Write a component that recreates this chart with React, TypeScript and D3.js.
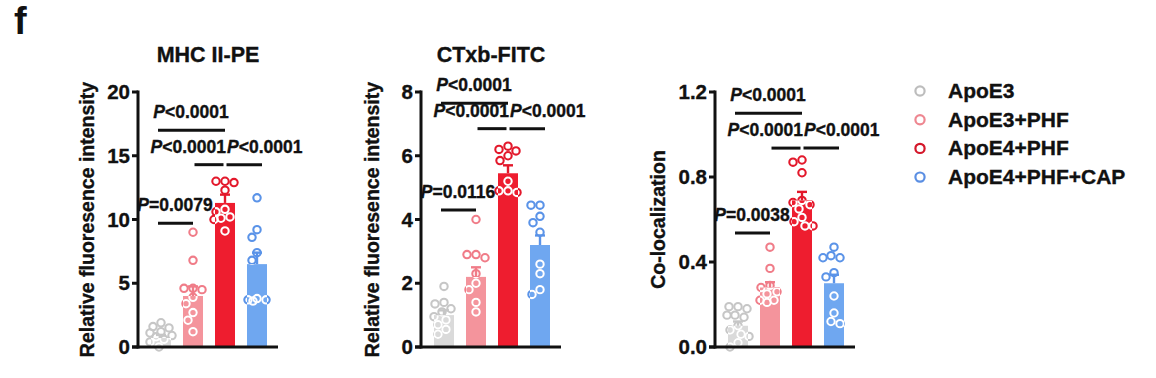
import React from 'react';
import * as d3 from 'd3';

const groups = ['ApoE3', 'ApoE3+PHF', 'ApoE4+PHF', 'ApoE4+PHF+CAP'];
const barColors = ['#dadada', '#f4949c', '#ee1d2f', '#6fa7f0'];
const pointColors = ['#c6c6c6', '#f07c88', '#e3182b', '#5a93e8'];
const legendColors = ['#bdbdbd', '#ee8791', '#d4172a', '#5b8fe3'];

// Panel 1: MHC II-PE
const mhcTicks = [0, 5, 10, 15, 20];
const mhcMeans = [0.7, 4.0, 11.3, 6.5];
const mhcSems = [0.25, 0.75, 0.65, 0.9];
const mhcPoints = [
  [1.9, 1.6, 1.5, 1.2, 1.1, 0.9, 0.8, 0.6, 0.4, 0.0],
  [9.0, 6.8, 4.6, 4.6, 4.5, 3.9, 3.4, 2.7, 2.1, 1.2],
  [13.0, 13.0, 12.9, 12.3, 10.8, 10.6, 10.2, 10.1, 10.0, 9.1],
  [11.7, 9.2, 8.6, 7.4, 6.8, 3.8, 3.7, 3.7, 3.6],
];
const mhcBrackets = [
  { a: 0, b: 2, y: 17.0, label: '<0.0001', anchor: 'middle' },
  { a: 1, b: 2, y: 14.3, label: '<0.0001', anchor: 'end' },
  { a: 2, b: 3, y: 14.3, label: '<0.0001', anchor: 'start' },
  { a: 0, b: 1, y: 9.7, label: '=0.0079', anchor: 'middle' },
];

// Panel 2: CTxb-FITC
const ctxTicks = [0, 2, 4, 6, 8];
const ctxMeans = [1.0, 2.2, 5.45, 3.2];
const ctxSems = [0.15, 0.3, 0.25, 0.3];
const ctxPoints = [
  [1.9, 1.4, 1.35, 1.2, 1.1, 0.95, 0.85, 0.7, 0.55, 0.4],
  [4.0, 2.9, 2.9, 2.8, 2.3, 2.0, 1.8, 1.4, 1.1],
  [6.3, 6.2, 6.15, 6.0, 5.85, 5.2, 4.9, 4.9, 4.85],
  [4.45, 4.45, 4.1, 3.9, 3.6, 2.6, 2.3, 1.8, 1.65],
];
const ctxBrackets = [
  { a: 0, b: 2, y: 7.65, label: '<0.0001', anchor: 'middle' },
  { a: 1, b: 2, y: 6.85, label: '<0.0001', anchor: 'end' },
  { a: 2, b: 3, y: 6.85, label: '<0.0001', anchor: 'start' },
  { a: 0, b: 1, y: 4.3, label: '=0.0116', anchor: 'middle' },
];

// Panel 3: Co-localization
const colTicks = [0, 0.4, 0.8, 1.2];
const colMeans = [0.1, 0.28, 0.69, 0.3];
const colSems = [0.02, 0.025, 0.04, 0.04];
const colPoints = [
  [0.19, 0.19, 0.18, 0.15, 0.15, 0.14, 0.1, 0.08, 0.06, 0.05, 0.02, 0.0],
  [0.47, 0.37, 0.29, 0.28, 0.26, 0.25, 0.22, 0.22, 0.21],
  [0.88, 0.87, 0.82, 0.69, 0.68, 0.67, 0.65, 0.61, 0.59, 0.57, 0.57],
  [0.47, 0.43, 0.42, 0.42, 0.35, 0.33, 0.24, 0.16, 0.12, 0.11],
];
const colBrackets = [
  { a: 0, b: 2, y: 1.1, label: '<0.0001', anchor: 'middle' },
  { a: 1, b: 2, y: 0.936, label: '<0.0001', anchor: 'end' },
  { a: 2, b: 3, y: 0.936, label: '<0.0001', anchor: 'start' },
  { a: 0, b: 1, y: 0.536, label: '=0.0038', anchor: 'middle' },
];

const FONT = "'Liberation Sans', Arial, Helvetica, sans-serif";
const TOP = 92;
const BOTTOM = 347;
const INK = '#111';
const HEAVY = { stroke: INK, strokeWidth: 0.35 };

function swarm(vals: number[], y: (v: number) => number, cx: number, minDist = 8.8, maxOff = 11) {
  const placed: { x: number; y: number }[] = [];
  const order = vals.map((v, i) => ({ v, i })).sort((p, q) => q.v - p.v);
  const out: { x: number; y: number }[] = new Array(vals.length);
  for (const { v, i } of order) {
    const py = y(v);
    let best: number | null = null;
    let bestScore = -1;
    let fallback = 0;
    for (let k = 0; k <= maxOff * 2; k++) {
      const off = (k % 2 === 0 ? 1 : -1) * Math.ceil(k / 2);
      const dmin = placed.reduce((m, p) => Math.min(m, Math.hypot(p.x - (cx + off), p.y - py)), Infinity);
      if (dmin >= minDist) {
        best = off;
        break;
      }
      if (dmin > bestScore) {
        bestScore = dmin;
        fallback = off;
      }
    }
    const o = best === null ? fallback : best;
    placed.push({ x: cx + o, y: py });
    out[i] = { x: cx + o, y: py };
  }
  return out;
}

type Bracket = { a: number; b: number; y: number; label: string; anchor: string };

function Panel(props: {
  id: string;
  x0: number;
  title?: string;
  ylabel: string;
  ylabelX: number;
  ticks: number[];
  fmt: (v: number) => string;
  means: number[];
  sems: number[];
  points: number[][];
  brackets: Bracket[];
}) {
  const { id, x0, title, ylabel, ylabelX, ticks, fmt, means, sems, points, brackets } = props;
  const y = d3.scaleLinear().domain([0, ticks[ticks.length - 1]]).range([BOTTOM, TOP]);
  const x = d3
    .scaleBand<number>()
    .domain([0, 1, 2, 3])
    .range([x0 + 7, x0 + 135])
    .paddingInner(0.375)
    .paddingOuter(0.1875);
  const bw = x.bandwidth();
  const cx = (i: number) => (x(i) as number) + bw / 2;
  const r = 3.7;
  return (
    <g>
      <defs>
        {means.map((m, i) => (
          <clipPath id={`${id}-clip-${i}`} key={i}>
            <rect x={x(i)} y={y(m)} width={bw} height={BOTTOM - y(m)} />
          </clipPath>
        ))}
      </defs>
      {title && (
        <text x={x0 + 70} y={62} textAnchor="middle" fontFamily={FONT} fontWeight="bold" fontSize={21.5} fill={INK} {...HEAVY}>
          {title}
        </text>
      )}
      <text
        transform={`translate(${ylabelX},${(TOP + BOTTOM) / 2}) rotate(-90)`}
        textAnchor="middle"
        dominantBaseline="central"
        fontFamily={FONT}
        fontWeight="bold"
        fontSize={19.5}
        fill={INK}
        {...HEAVY}
      >
        {ylabel}
      </text>
      {/* bars */}
      {means.map((m, i) => (
        <rect key={i} x={x(i)} y={y(m)} width={bw} height={BOTTOM - y(m)} fill={barColors[i]} />
      ))}
      {/* error bars */}
      {means.map((m, i) => (
        <g key={i} stroke={pointColors[i]} strokeWidth={2.4}>
          <line x1={cx(i)} x2={cx(i)} y1={y(m)} y2={y(m + sems[i])} />
          <line x1={cx(i) - 5} x2={cx(i) + 5} y1={y(m + sems[i])} y2={y(m + sems[i])} />
        </g>
      ))}
      {/* points */}
      {points.map((vals, i) => {
        const pos = swarm(vals, y, cx(i));
        return (
          <g key={i}>
            {pos.map((p, j) => (
              <circle key={j} cx={p.x} cy={p.y} r={r} fill="none" stroke={pointColors[i]} strokeWidth={2.1} />
            ))}
            <g clipPath={`url(#${id}-clip-${i})`}>
              {pos.map((p, j) => (
                <circle key={j} cx={p.x} cy={p.y} r={r} fill="none" stroke="#ffffff" strokeWidth={2.1} />
              ))}
            </g>
          </g>
        );
      })}
      {/* axes */}
      <line x1={x0} x2={x0} y1={TOP - 1.5} y2={BOTTOM + 1.5} stroke={INK} strokeWidth={3} />
      <line x1={x0 - 6} x2={x0 + 140} y1={BOTTOM} y2={BOTTOM} stroke={INK} strokeWidth={3} />
      {ticks.map((t) => (
        <g key={t}>
          <line x1={x0 - 6} x2={x0} y1={y(t)} y2={y(t)} stroke={INK} strokeWidth={3} />
          <text x={x0 - 8} y={y(t) + 7} textAnchor="end" fontFamily={FONT} fontWeight="bold" fontSize={20.5} fill={INK} {...HEAVY}>
            {fmt(t)}
          </text>
        </g>
      ))}
      {/* brackets */}
      {brackets.map((b, k) => {
        const yy = y(b.y);
        const x1 = cx(b.a) + (b.anchor === 'start' ? 1.5 : b.anchor === 'middle' ? -3 : 1.5);
        const x2 = cx(b.b) - (b.anchor === 'end' ? 1.5 : b.anchor === 'start' ? -5 : 0);
        let tx = (cx(b.a) + cx(b.b)) / 2 - 2;
        if (b.anchor === 'end') tx = cx(b.b) + 1;
        if (b.anchor === 'start') tx = cx(b.a) + 2;
        return (
          <g key={k}>
            <line x1={x1} x2={x2} y1={yy} y2={yy} stroke={INK} strokeWidth={3} />
            <text x={tx} y={yy - 12} textAnchor={b.anchor} fontFamily={FONT} fontWeight="bold" fontSize={17.5} fill={INK} {...HEAVY}>
              <tspan fontStyle="italic">P</tspan>
              {b.label}
            </text>
          </g>
        );
      })}
    </g>
  );
}

export default function App() {
  return (
    <svg
      width={1156}
      height={378}
      viewBox="0 0 1156 378"
      style={{ position: 'absolute', left: 0, top: 0, background: '#fff' }}
    >
      <rect x={0} y={0} width={1156} height={378} fill="#fff" />
      <text x={14} y={34} fontFamily={FONT} fontWeight="bold" fontSize={38} fill={INK}>
        f
      </text>
      <Panel
        id="p1"
        x0={138}
        title="MHC II-PE"
        ylabel="Relative fluoresence intensity"
        ylabelX={87}
        ticks={mhcTicks}
        fmt={(v) => d3.format('d')(v)}
        means={mhcMeans}
        sems={mhcSems}
        points={mhcPoints}
        brackets={mhcBrackets}
      />
      <Panel
        id="p2"
        x0={421}
        title="CTxb-FITC"
        ylabel="Relative fluoresence intensity"
        ylabelX={372}
        ticks={ctxTicks}
        fmt={(v) => d3.format('d')(v)}
        means={ctxMeans}
        sems={ctxSems}
        points={ctxPoints}
        brackets={ctxBrackets}
      />
      <Panel
        id="p3"
        x0={715}
        ylabel="Co-localization"
        ylabelX={658}
        ticks={colTicks}
        fmt={(v) => d3.format('.1f')(v)}
        means={colMeans}
        sems={colSems}
        points={colPoints}
        brackets={colBrackets}
      />
      {groups.map((g, i) => {
        const ly = 91 + i * 28.7;
        return (
          <g key={g}>
            <circle cx={920} cy={ly} r={4.6} fill="#fff" stroke={legendColors[i]} strokeWidth={2.2} />
            <text x={948} y={ly + 7} fontFamily={FONT} fontWeight="bold" fontSize={21} fill={INK} {...HEAVY}>
              {g}
            </text>
          </g>
        );
      })}
    </svg>
  );
}
